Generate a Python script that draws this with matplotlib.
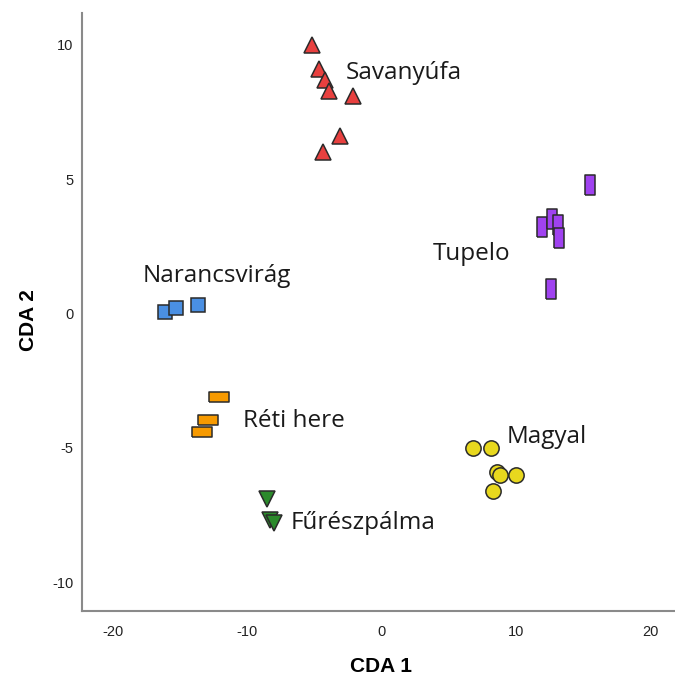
import matplotlib
matplotlib.use("Agg")
import matplotlib.pyplot as plt
import numpy as np

plt.rcParams["axes.unicode_minus"] = False

# Data (CDA scores)
savanyufa_x = [-5.2, -4.7, -4.2, -3.9, -2.1, -3.1, -4.4]
savanyufa_y = [10.0, 9.1, 8.7, 8.3, 8.1, 6.6, 6.0]

tupelo_x = [15.5, 11.9, 12.7, 13.1, 13.2, 12.6]
tupelo_y = [4.8, 3.2, 3.5, 3.3, 2.8, 0.9]

narancs_x = [-16.1, -15.3, -13.7]
narancs_y = [0.05, 0.2, 0.33]

reti_x = [-12.1, -12.9, -13.4]
reti_y = [-3.1, -3.95, -4.4]

magyal_x = [6.8, 8.1, 8.6, 8.8, 10.0, 8.3]
magyal_y = [-5.0, -5.0, -5.9, -6.0, -6.0, -6.6]

furesz_x = [-8.5, -8.3, -8.0]
furesz_y = [-6.9, -7.7, -7.8]

labels = ["Savanyúfa", "Tupelo", "Narancsvirág", "Réti here", "Magyal", "Fűrészpálma"]
label_x = [-2.7, 3.8, -17.8, -10.3, 9.3, -6.8]
label_y = [8.96, 2.2, 1.4, -4.0, -4.6, -7.8]

x_ticks = [-20, -10, 0, 10, 20]
y_ticks = [-10, -5, 0, 5, 10]

fig = plt.figure(figsize=(6.75, 6.78), dpi=100)
ax = fig.add_axes([0.1215, 0.0988, 0.878, 0.8822])

ec = "#2a2a2a"
lw = 1.1
tall_rect = [(-0.45, -1), (0.45, -1), (0.45, 1), (-0.45, 1), (-0.45, -1)]
wide_rect = [(-1, -0.5), (1, -0.5), (1, 0.5), (-1, 0.5), (-1, -0.5)]

ax.plot(savanyufa_x, savanyufa_y, ls="none", marker="^", ms=12, mfc="#e8403f", mec=ec, mew=lw)
ax.plot(tupelo_x, tupelo_y, ls="none", marker=tall_rect, ms=14.5, mfc="#a042f0", mec=ec, mew=lw)
ax.plot(narancs_x, narancs_y, ls="none", marker="s", ms=10, mfc="#4a8fe2", mec=ec, mew=lw)
ax.plot(reti_x, reti_y, ls="none", marker=wide_rect, ms=14.5, mfc="#f79a00", mec=ec, mew=lw)
ax.plot(magyal_x, magyal_y, ls="none", marker="o", ms=11, mfc="#e8d81e", mec=ec, mew=lw)
ax.plot(furesz_x, furesz_y, ls="none", marker="v", ms=12, mfc="#2b8a2b", mec=ec, mew=lw)

for t, x, y in zip(labels, label_x, label_y):
    ax.text(x, y, t, family="Open Sans", fontsize=17.5, color="#1a1a1a",
            ha="left", va="center")

ax.set_xlim(-22.3, 21.8)
ax.set_ylim(-11.08, 11.19)
ax.set_xticks(x_ticks)
ax.set_yticks(y_ticks)
ax.tick_params(length=0, labelsize=10.5, colors="#222222")
ax.tick_params(axis="x", pad=10)
ax.tick_params(axis="y", pad=6)
for lab in ax.get_xticklabels() + ax.get_yticklabels():
    lab.set_family("Liberation Sans")
for s in ["top", "right"]:
    ax.spines[s].set_visible(False)
for s in ["left", "bottom"]:
    ax.spines[s].set_color("#8a8a8a")
    ax.spines[s].set_linewidth(1.5)

fig.text(381 / 675, 1 - 667 / 678, "CDA 1", family="Liberation Sans", fontweight="bold",
         fontsize=15, ha="center", va="center")
fig.text(29 / 675, 1 - 320 / 678, "CDA 2", family="Liberation Sans", fontweight="bold",
         fontsize=15, ha="center", va="center", rotation=90)

fig.savefig("out.png", dpi=100)
